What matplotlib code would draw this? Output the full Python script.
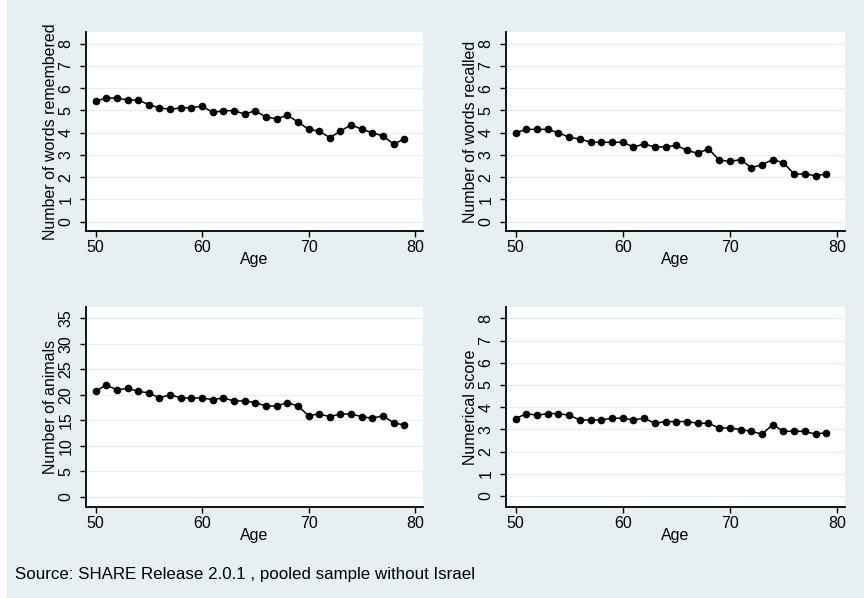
import matplotlib
matplotlib.use("Agg")
import matplotlib.pyplot as plt
from matplotlib.patches import Rectangle

plt.rcParams['font.family'] = ['Liberation Sans', 'DejaVu Sans']

ages = list(range(50, 80))

words_remembered = [5.42, 5.56, 5.56, 5.47, 5.47, 5.26, 5.12, 5.05, 5.12, 5.12,
                    5.20, 4.91, 4.99, 4.99, 4.84, 4.99, 4.70, 4.63, 4.78, 4.49,
                    4.15, 4.07, 3.78, 4.07, 4.36, 4.15, 4.00, 3.85, 3.49, 3.72]

words_recalled = [4.00, 4.15, 4.15, 4.15, 4.00, 3.79, 3.72, 3.57, 3.57, 3.57,
                  3.57, 3.36, 3.49, 3.36, 3.36, 3.43, 3.21, 3.07, 3.28, 2.77,
                  2.71, 2.79, 2.43, 2.56, 2.79, 2.65, 2.14, 2.14, 2.07, 2.14]

animals = [20.67, 21.92, 20.93, 21.26, 20.67, 20.35, 19.36, 20.02, 19.36, 19.36,
           19.36, 19.04, 19.36, 18.78, 18.78, 18.45, 17.79, 17.79, 18.45, 17.79,
           15.90, 16.22, 15.70, 16.22, 16.22, 15.70, 15.37, 15.90, 14.46, 14.07]

numerical = [3.48, 3.71, 3.63, 3.71, 3.71, 3.63, 3.42, 3.42, 3.42, 3.50,
             3.50, 3.42, 3.50, 3.27, 3.35, 3.35, 3.35, 3.27, 3.27, 3.06,
             3.06, 2.99, 2.91, 2.78, 3.21, 2.91, 2.91, 2.91, 2.78, 2.85]

x_ticks = [50, 60, 70, 80]
y_ticks_small = [0, 1, 2, 3, 4, 5, 6, 7, 8]
y_ticks_animals = [0, 5, 10, 15, 20, 25, 30, 35]

BG = '#e8eff2'
GRID = '#e8eff2'
FS = 11.5

W, H = 864, 598
fig = plt.figure(figsize=(W / 100, H / 100), dpi=100, facecolor=BG)
fig.patches.append(Rectangle((0, 0), 7 / W, 1, transform=fig.transFigure,
                             facecolor='white', edgecolor='none', zorder=-1))

panels = [
    # (left, top, right, bottom) in pixels, series, ticks, ylim, label
    ((86, 32, 423, 231), words_remembered, y_ticks_small, (-0.42, 8.53),
     'Number of words remembered'),
    ((506, 32, 845, 231), words_recalled, y_ticks_small, (-0.42, 8.53),
     'Number of words recalled'),
    ((86, 307, 423, 507), animals, y_ticks_animals, (-2.02, 37.2),
     'Number of animals'),
    ((506, 307, 845, 507), numerical, y_ticks_small, (-0.5, 8.51),
     'Numerical score'),
]

for (l, t, r, b), values, yt, ylim, ylabel in panels:
    ax = fig.add_axes([l / W, 1 - b / H, (r - l) / W, (b - t) / H])
    ax.set_facecolor('white')
    ax.plot(ages, values, color='black', lw=1.1, marker='o', markersize=4.5,
            markerfacecolor='black', markeredgecolor='black')
    ax.set_xlim(49.1, 80.75)
    ax.set_ylim(*ylim)
    ax.set_xticks(x_ticks)
    ax.set_yticks(yt)
    ax.set_yticklabels([str(v) for v in yt], rotation=90, va='center')
    ax.grid(axis='y', color=GRID, lw=1.0)
    ax.set_axisbelow(True)
    for side in ('top', 'right'):
        ax.spines[side].set_visible(False)
    for side in ('left', 'bottom'):
        ax.spines[side].set_linewidth(1.3)
        ax.spines[side].set_color('black')
    ax.tick_params(axis='both', direction='out', length=4.5, width=1.0,
                   labelsize=FS, colors='black')
    ax.tick_params(axis='x', pad=2)
    ax.tick_params(axis='y', pad=4.5)
    ax.set_xlabel('Age', fontsize=FS, labelpad=-2)
    ax.set_ylabel(ylabel, fontsize=FS, labelpad=0.5)

fig.text(15 / W, 1 - 575 / H, 'Source: SHARE Release 2.0.1 , pooled sample without Israel',
         fontsize=12.2, va='center', ha='left', color='black')

fig.savefig('out.png', dpi=100, facecolor=BG)
